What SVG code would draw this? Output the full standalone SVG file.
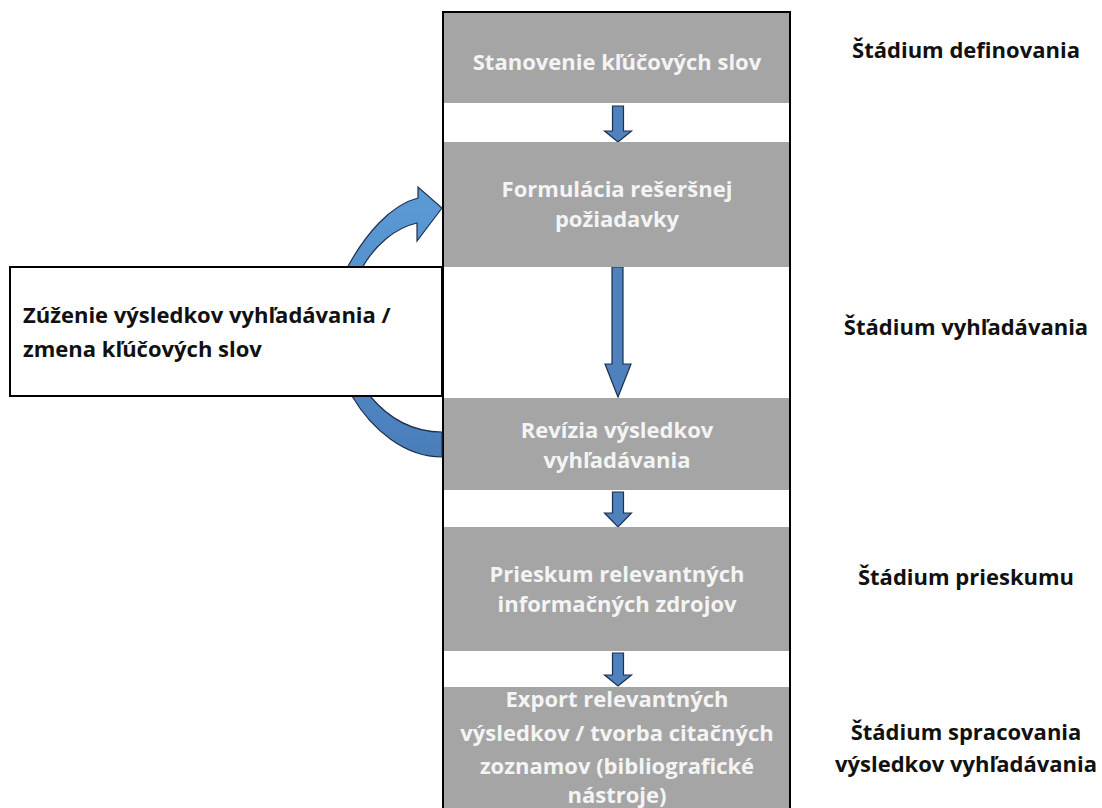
<svg xmlns="http://www.w3.org/2000/svg" width="1102" height="808" viewBox="0 0 1102 808">
<defs>
<style>
.step{fill:#a5a5a5}
.st{font-family:"Open Sans","Liberation Sans",sans-serif;font-weight:bold;font-size:22px;fill:#f4f4f4;text-anchor:middle}
.lbl{font-family:"Open Sans","Liberation Sans",sans-serif;font-weight:bold;font-size:22px;fill:#111;text-anchor:middle}
.arr{fill:#4f81bd;stroke:#1f2f4f;stroke-width:1.2;stroke-linejoin:miter}
</style>
<linearGradient id="loopGrad" x1="0" y1="0" x2="0" y2="1">
<stop offset="0" stop-color="#5b9bd5"/>
<stop offset="1" stop-color="#4a7ebb"/>
</linearGradient>
</defs>
<rect width="1102" height="808" fill="#fff"/>
<g id="frame">
<rect x="443" y="12" width="347" height="810" fill="#fff" stroke="#000" stroke-width="2"/>
</g>
<g id="connectors">
<path class="arr" style="fill:url(#loopGrad)" d="M442,208 L417,241 L417,223 C395,228 375,245 362,268 C340,310 345,370 370,396 C390,420 415,432 442,432 L442,457 C405,457 372,430 352,396 C325,355 325,305 347,268 C365,235 390,205 418,198 L418,187 Z"/>
<path class="arr" d="M612.5,106 H623.5 V131 H631.5 L618,142 L604.5,131 H612.5 Z"/>
<path class="arr" d="M612,267 H623 V364 H631 L618,397 L605,364 H612 Z"/>
<path class="arr" d="M612.5,492 H623.5 V513 H631.5 L618,527 L604.5,513 H612.5 Z"/>
<path class="arr" d="M612.5,653 H623.5 V675 H631.5 L618,686 L604.5,675 H612.5 Z"/>
</g>
<g id="n1"><rect class="step" x="444" y="13" width="345" height="90"/><text class="st" x="617" y="70">Stanovenie kľúčových slov</text></g>
<g id="n2"><rect class="step" x="444" y="142" width="345" height="125"/><text class="st" x="617" y="197">Formulácia rešeršnej</text><text class="st" x="617" y="227">požiadavky</text></g>
<g id="n3"><rect class="step" x="444" y="398" width="345" height="92"/><text class="st" x="617" y="438">Revízia výsledkov</text><text class="st" x="617" y="468">vyhľadávania</text></g>
<g id="n4"><rect class="step" x="444" y="527" width="345" height="124"/><text class="st" x="617" y="582">Prieskum relevantných</text><text class="st" x="617" y="612">informačných zdrojov</text></g>
<g id="n5"><rect class="step" x="444" y="687" width="345" height="125"/><text class="st" x="617" y="707">Export relevantných</text><text class="st" x="617" y="741">výsledkov / tvorba citačných</text><text class="st" x="617" y="774">zoznamov  (bibliografické</text><text class="st" x="617" y="803">nástroje)</text></g>
<g id="loop"><rect x="10" y="267" width="432" height="129" fill="#fff" stroke="#000" stroke-width="2"/><text class="lbl" style="text-anchor:start" x="23" y="323">Zúženie výsledkov vyhľadávania /</text><text class="lbl" style="text-anchor:start" x="23" y="357">zmena kľúčových slov</text></g>
<g id="stages">
<text class="lbl" x="966" y="58">Štádium definovania</text>
<text class="lbl" x="966" y="335">Štádium vyhľadávania</text>
<text class="lbl" x="966" y="585">Štádium prieskumu</text>
<text class="lbl" x="966" y="740">Štádium spracovania</text>
<text class="lbl" x="966" y="772">výsledkov vyhľadávania</text>
</g>
</svg>
